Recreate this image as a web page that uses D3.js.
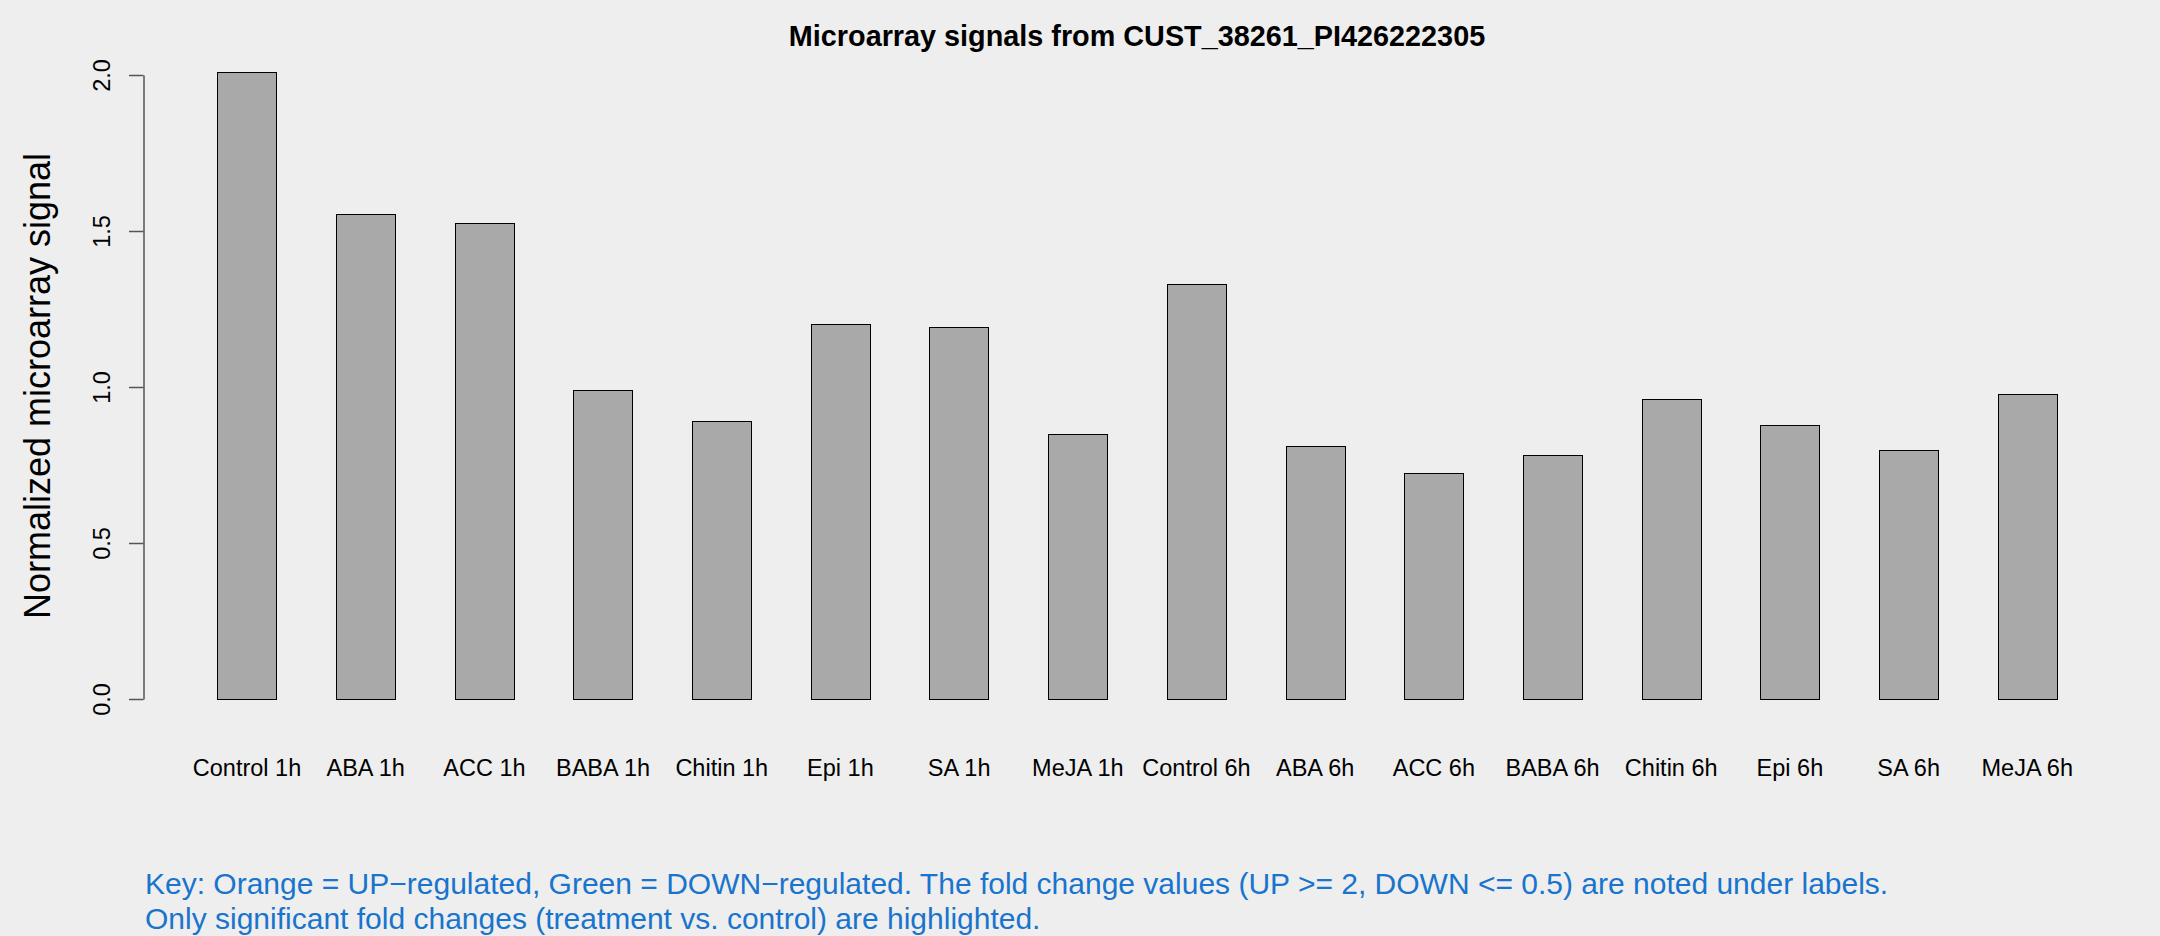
<!DOCTYPE html>
<html>
<head>
<meta charset="utf-8">
<script src="https://cdn.jsdelivr.net/npm/d3@7"></script>
<style>
  html, body { margin: 0; padding: 0; background: #eeeeee; }
  svg { display: block; font-family: "Liberation Sans", Arial, Helvetica, sans-serif; }
</style>
</head>
<body>
<svg id="chart" width="2160" height="936"></svg>
<script>
const categories = ["Control 1h", "ABA 1h", "ACC 1h", "BABA 1h", "Chitin 1h", "Epi 1h", "SA 1h", "MeJA 1h",
                    "Control 6h", "ABA 6h", "ACC 6h", "BABA 6h", "Chitin 6h", "Epi 6h", "SA 6h", "MeJA 6h"];
const signals = [2.011, 1.553, 1.526, 0.991, 0.891, 1.202, 1.193, 0.849,
                 1.331, 0.812, 0.723, 0.781, 0.960, 0.879, 0.799, 0.977];
const yTicks = [0, 0.5, 1.0, 1.5, 2.0];
const titleText = "Microarray signals from CUST_38261_PI426222305";
const yLabelText = "Normalized microarray signal";
const keyLines = [
  "Key: Orange = UP\u2212regulated, Green = DOWN\u2212regulated. The fold change values (UP >= 2, DOWN <= 0.5) are noted under labels.",
  "Only significant fold changes (treatment vs. control) are highlighted."
];

const svg = d3.select("#chart");
svg.append("rect").attr("width", 2160).attr("height", 936).attr("fill", "#eeeeee");

const x = d3.scaleBand()
  .domain(categories)
  .range([158, 2116.3])
  .paddingInner(0.5)
  .paddingOuter(0.5);

const y = d3.scaleLinear().domain([0, 2]).range([699, 75]);

// bars
svg.append("g")
  .selectAll("rect")
  .data(categories.map((c, i) => ({ c, v: signals[i] })))
  .join("rect")
  .attr("x", d => Math.round(x(d.c)) + 0.5)
  .attr("y", d => Math.round(y(d.v)) + 0.5)
  .attr("width", Math.round(x.bandwidth()))
  .attr("height", d => Math.round(y(0)) - Math.round(y(d.v)))
  .attr("fill", "#a9a9a9")
  .attr("stroke", "#000")
  .attr("stroke-width", 1);

// y axis
const yAxis = svg.append("g")
  .attr("transform", "translate(143.5,0)")
  .call(d3.axisLeft(y).tickValues(yTicks).tickFormat(d3.format(".1f")).tickSize(14.5).tickSizeOuter(0));
yAxis.select(".domain").attr("stroke", "#555").attr("stroke-width", 1.5);
yAxis.selectAll(".tick line").attr("stroke", "#555").attr("stroke-width", 1.5);
yAxis.selectAll(".tick text")
  .attr("x", null).attr("dy", null)
  .attr("transform", "translate(-33.5,0) rotate(-90)")
  .attr("text-anchor", "middle")
  .attr("fill", "#000")
  .style("font-size", "23.5px")
  .style("font-family", "\"Liberation Sans\", Arial, Helvetica, sans-serif");

// x labels
svg.append("g")
  .selectAll("text")
  .data(categories)
  .join("text")
  .attr("x", d => x(d) + x.bandwidth() / 2)
  .attr("y", 776)
  .attr("text-anchor", "middle")
  .attr("fill", "#000")
  .style("font-size", "23.5px")
  .text(d => d);

// title
svg.append("text")
  .attr("x", 1137)
  .attr("y", 45.7)
  .attr("text-anchor", "middle")
  .attr("font-weight", "bold")
  .style("font-size", "28.8px")
  .attr("fill", "#000")
  .text(titleText);

// y label
svg.append("text")
  .attr("transform", "translate(50,386) rotate(-90)")
  .attr("text-anchor", "middle")
  .style("font-size", "36px")
  .attr("fill", "#000")
  .text(yLabelText);

// key
svg.append("g")
  .selectAll("text")
  .data(keyLines)
  .join("text")
  .attr("x", 145)
  .attr("y", (d, i) => 894.3 + i * 35)
  .attr("fill", "#1874cd")
  .style("font-size", "30px")
  .text(d => d);
</script>
</body>
</html>
